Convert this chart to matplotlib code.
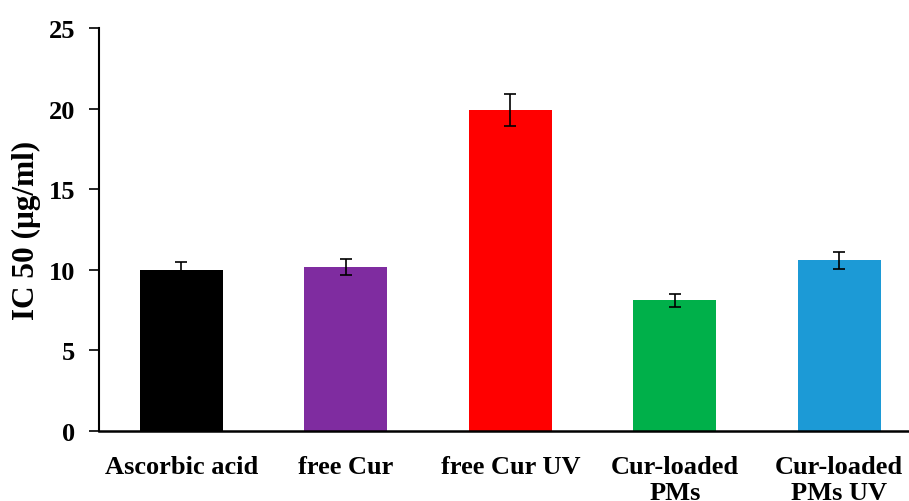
import matplotlib
matplotlib.use("Agg")
import matplotlib.pyplot as plt

# IC50 values with standard deviations
categories = ["Ascorbic acid", "free Cur", "free Cur UV", "Cur-loaded\nPMs", "Cur-loaded\nPMs UV"]
ic50 = [10.0, 10.2, 19.9, 8.1, 10.6]
sd = [0.5, 0.5, 1.0, 0.42, 0.52]
colors = ["#000000", "#7F2CA0", "#FF0000", "#00B04A", "#1C9AD6"]
y_ticks = [0, 5, 10, 15, 20, 25]

plt.rcParams["font.family"] = ["Liberation Serif", "DejaVu Serif"]
plt.rcParams["font.weight"] = "bold"

fig = plt.figure(figsize=(9.09, 5.02), dpi=100)
ax = fig.add_axes([99 / 909, 70 / 502, 810 / 909, 403 / 502])

x = list(range(len(categories)))
ax.bar(x, ic50, width=0.505, color=colors, zorder=2)
ax.errorbar(x, ic50, yerr=sd, fmt="none", ecolor="black", elinewidth=1.2,
            capsize=4.3, capthick=1.2, zorder=3)

ax.set_xlim(-0.5, 4.424)
ax.set_ylim(0, 25)
ax.set_yticks(y_ticks)
ax.set_xticks(x)
ax.set_xticklabels(categories, fontsize=19, fontweight="bold", linespacing=1.2)
ax.tick_params(axis="x", length=0, pad=17)
ax.tick_params(axis="y", length=7, width=1.2, direction="out", pad=10, labelsize=19)
for lbl in ax.get_yticklabels():
    lbl.set_fontweight("bold")

ax.spines["top"].set_visible(False)
ax.spines["right"].set_visible(False)
ax.spines["left"].set_linewidth(1.5)
ax.spines["bottom"].set_linewidth(1.8)

ax.set_ylabel("IC 50 (μg/ml)", fontsize=22.5, fontweight="bold", labelpad=6)

fig.savefig("out.png", dpi=100)
